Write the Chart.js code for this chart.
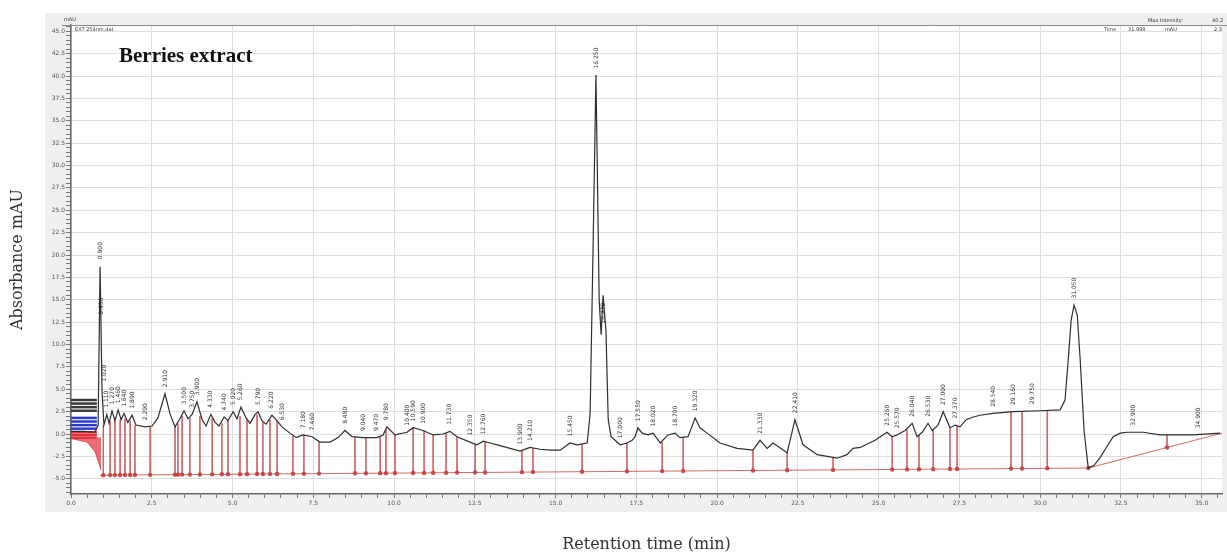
<!DOCTYPE html>
<html>
<head>
<meta charset="utf-8">
<script src="https://cdn.jsdelivr.net/npm/chart.js@4.4.1/dist/chart.umd.min.js"></script>
<style>
  html, body { margin: 0; padding: 0; background: #fff; }
  #wrap { position: relative; width: 1227px; height: 556px; }
</style>
</head>
<body>
<div id="wrap"><canvas id="myChart" width="1227" height="556"></canvas></div>
<script>
// chromatogram trace (min, mAU)
var traceTime = [0.00,0.40,0.74,0.84,0.90,0.96,1.02,1.11,1.18,1.27,
  1.36,1.46,1.55,1.64,1.76,1.89,2.01,2.29,2.51,2.69,
  2.91,3.07,3.22,3.37,3.50,3.62,3.75,3.90,4.06,4.18,
  4.33,4.46,4.58,4.74,4.86,5.02,5.14,5.26,5.42,5.54,
  5.70,5.79,5.91,6.04,6.22,6.35,6.53,6.78,6.97,7.18,
  7.46,7.71,8.02,8.27,8.48,8.70,9.04,9.47,9.66,9.78,
  10.03,10.40,10.59,10.90,11.21,11.52,11.73,11.95,12.35,12.57,
  12.76,12.97,13.28,13.90,14.21,14.52,14.83,15.14,15.45,15.67,
  15.98,16.07,16.16,16.25,16.35,16.41,16.47,16.56,16.63,16.72,
  17.00,17.21,17.37,17.46,17.55,17.68,17.86,18.02,18.24,18.48,
  18.70,18.85,19.10,19.32,19.47,19.69,20.09,20.62,21.11,21.33,
  21.55,21.73,22.17,22.41,22.66,23.10,23.72,24.02,24.21,24.43,
  24.89,25.26,25.42,25.57,25.82,26.04,26.19,26.35,26.53,26.66,
  26.84,27.00,27.21,27.37,27.52,27.71,27.93,28.14,28.54,29.16,
  30.00,30.62,30.77,30.87,30.96,31.05,31.15,31.24,31.36,31.49,
  31.67,31.86,32.05,32.26,32.48,32.69,33.19,33.71,34.74,35.57];
var traceAbs = [0.3,0.3,0.2,1.0,18.7,4.9,1.0,2.2,1.2,2.6,
  1.5,2.7,1.6,2.3,1.3,2.1,1.0,0.8,0.9,1.8,
  4.5,2.2,0.8,1.7,2.6,1.7,2.2,3.6,1.6,0.9,
  2.2,1.3,0.9,1.9,1.5,2.5,1.7,3.0,1.8,1.2,
  2.2,2.5,1.5,1.1,2.1,1.6,0.8,0.1,-0.4,-0.1,
  -0.3,-0.9,-0.9,-0.4,0.4,-0.3,-0.4,-0.4,-0.1,0.8,
  -0.1,0.2,0.7,0.4,-0.1,0.0,0.3,-0.3,-0.9,-1.2,
  -0.8,-1.0,-1.3,-1.9,-1.5,-1.7,-1.8,-1.8,-1.0,-1.2,
  -1.0,2.3,20.6,40.1,15.0,11.1,15.5,11.6,1.6,-0.3,
  -1.2,-1.0,-0.7,-0.3,0.7,0.1,-0.1,0.1,-1.0,-0.1,
  0.1,-0.4,-0.3,1.8,0.7,0.1,-1.0,-1.6,-1.8,-0.7,
  -1.6,-1.0,-2.1,1.6,-1.2,-2.3,-2.7,-2.3,-1.6,-1.5,
  -0.7,0.2,-0.3,-0.1,0.4,1.2,-0.3,0.2,1.2,0.4,
  1.0,2.5,0.7,1.0,0.8,1.6,1.9,2.1,2.3,2.5,
  2.6,2.7,3.8,8.3,12.7,14.4,13.3,8.3,0.4,-3.8,
  -3.5,-2.6,-1.5,-0.3,0.1,0.2,0.2,-0.1,-0.1,0.1];

// integration baseline
var baseTime = [0.90, 31.49, 35.63];
var baseAbs = [-4.6, -3.8, 0.1];

// peak drop lines: time, top on trace, foot on baseline
var dropTime = [1.00,1.21,1.36,1.52,1.67,1.83,1.98,2.45,3.22,3.31,
  3.44,3.68,3.99,4.37,4.67,4.86,5.23,5.45,5.76,5.94,
  6.16,6.38,6.87,7.21,7.68,8.79,9.13,9.57,9.75,10.03,
  10.59,10.93,11.21,11.61,11.95,12.51,12.82,13.96,14.30,15.82,
  17.21,18.30,18.95,21.11,22.17,23.59,25.42,25.88,26.25,26.69,
  27.21,27.43,29.10,29.44,30.22,33.93];
var dropTop = [1.0,1.4,1.5,1.6,1.7,1.5,1.0,0.9,0.8,1.2,
  2.0,1.8,2.0,1.8,1.2,1.5,2.0,1.6,2.2,1.3,
  1.6,1.5,-0.2,-0.1,-0.8,-0.3,-0.4,-0.3,0.5,-0.1,
  0.7,0.4,-0.1,0.1,-0.3,-1.1,-0.8,-1.8,-1.6,-1.1,
  -1.0,-0.9,-0.4,-1.8,-2.1,-2.6,-0.3,0.5,-0.1,0.5,
  0.7,0.9,2.5,2.5,2.6,-0.1];
var dropBase = [-4.60,-4.59,-4.59,-4.58,-4.58,-4.58,-4.57,-4.56,-4.54,-4.54,
  -4.53,-4.53,-4.52,-4.51,-4.50,-4.50,-4.49,-4.48,-4.47,-4.47,
  -4.46,-4.46,-4.44,-4.43,-4.42,-4.39,-4.38,-4.37,-4.37,-4.36,
  -4.35,-4.34,-4.33,-4.32,-4.31,-4.30,-4.29,-4.26,-4.25,-4.21,
  -4.17,-4.14,-4.13,-4.07,-4.04,-4.01,-3.96,-3.95,-3.94,-3.93,
  -3.91,-3.91,-3.86,-3.85,-3.83,-1.50];

// peak labels (retention time written at apex)
var labelTime = [0.90,0.93,1.02,1.11,1.27,1.46,1.64,1.89,2.29,2.91,
  3.50,3.75,3.90,4.33,4.74,5.02,5.26,5.79,6.22,6.53,
  7.18,7.46,8.48,9.04,9.47,9.78,10.40,10.59,10.90,11.73,
  12.35,12.76,13.90,14.21,15.45,16.25,16.47,17.00,17.55,18.02,
  18.70,19.32,21.33,22.41,25.26,25.57,26.04,26.53,27.00,27.37,
  28.54,29.16,29.75,31.05,32.90,34.90];
var labelAbs = [19.2,13.0,5.5,2.6,3.0,3.1,2.7,2.5,1.2,4.9,
  3.0,2.6,4.0,2.6,2.3,2.9,3.4,2.9,2.5,1.2,
  0.3,0.1,0.8,0.0,0.0,1.2,0.6,1.1,0.8,0.7,
  -0.5,-0.4,-1.5,-1.1,-0.6,40.5,12.0,-0.8,1.1,0.5,
  0.5,2.2,-0.3,2.0,0.6,0.3,1.6,1.6,2.9,1.4,
  2.7,2.9,3.0,14.8,0.6,0.3];

// overlaid runs at the very start
var startTime = [0.0, 0.80];
var blackLevels = [3.8, 3.4, 3.0, 2.6];
var blueLevels = [1.8, 1.4, 1.0, 0.6];
var redLevels = [0.2, -0.1, -0.4];
var redTailTime = [0.0, 0.50, 0.75, 0.93];
var redTailAbs = [-0.5, -0.9, -2.0, -4.0];

// axis ticks
var xTicks = [0,2.5,5,7.5,10,12.5,15,17.5,20,22.5,25,27.5,30,32.5,35];
var yTicks = [-5,-2.5,0,2.5,5,7.5,10,12.5,15,17.5,20,22.5,25,27.5,30,32.5,35,37.5,40,42.5,45];

function pts(xs, ys) {
  var out = [];
  for (var i in xs) out.push({x: xs[i], y: ys[i]});
  return out;
}

var datasets = [];
// trace
datasets.push({ data: pts(traceTime, traceAbs), borderColor: '#2e2e2e', borderWidth: 1.2, order: 1 });
// baseline
datasets.push({ data: pts(baseTime, baseAbs), borderColor: 'rgba(205,80,80,0.85)', borderWidth: 1, order: 3 });
// drop lines
var dropData = [];
for (var i in dropTime) {
  dropData.push({x: dropTime[i], y: dropTop[i]});
  dropData.push({x: dropTime[i], y: dropBase[i]});
  dropData.push({x: dropTime[i], y: null});
}
datasets.push({ data: dropData, borderColor: 'rgba(205,90,90,0.8)', borderWidth: 1, spanGaps: false, order: 4 });
// baseline dots
datasets.push({ data: pts(dropTime.concat([31.49]), dropBase.concat([-3.8])), showLine: false,
  pointRadius: 2.2, pointBackgroundColor: 'rgba(200,60,60,0.9)', pointBorderWidth: 0, order: 2 });
// start overlays
blackLevels.forEach(function(v) {
  datasets.push({ data: pts(startTime, [v, v]), borderColor: '#3a3a3a', borderWidth: 2.5, order: 5 });
});
blueLevels.forEach(function(v) {
  datasets.push({ data: pts(startTime, [v, v]), borderColor: '#2b3bd0', borderWidth: 2.5, order: 5 });
});
redLevels.forEach(function(v) {
  datasets.push({ data: pts(startTime, [v, v]), borderColor: '#e0303a', borderWidth: 2.5, order: 5 });
});
datasets.push({ data: pts(redTailTime, redTailAbs), borderColor: 'rgba(225,50,60,0.8)', borderWidth: 1,
  fill: {value: -0.4}, backgroundColor: 'rgba(230,60,70,0.75)', order: 5 });

var panelPlugin = {
  id: 'panel',
  beforeDraw: function(chart) {
    var c = chart.ctx, a = chart.chartArea;
    c.save();
    c.fillStyle = '#efefef';
    c.fillRect(45, 13, 1182, 499);
    c.fillStyle = '#ffffff';
    c.fillRect(a.left, a.top, a.right - a.left, a.bottom - a.top);
    c.restore();
  },
  afterDatasetsDraw: function(chart) {
    var c = chart.ctx, xs = chart.scales.x, ys = chart.scales.y, a = chart.chartArea;
    c.save();
    // peak labels
    c.fillStyle = '#333';
    c.font = '6px "DejaVu Sans"';
    c.textBaseline = 'middle';
    c.textAlign = 'left';
    for (var i in labelTime) {
      var px = xs.getPixelForValue(labelTime[i]);
      var py = ys.getPixelForValue(labelAbs[i]) - 3;
      c.save();
      c.translate(px, py);
      c.rotate(-Math.PI / 2);
      c.fillText(labelTime[i].toFixed(3), 0, 0);
      c.restore();
    }
    // top frame
    c.strokeStyle = '#888';
    c.lineWidth = 1;
    c.beginPath();
    c.moveTo(62, a.top + 0.5);
    c.lineTo(1227, a.top + 0.5);
    c.stroke();
    // header texts
    c.fillStyle = '#333';
    c.font = '5px "DejaVu Sans"';
    c.textAlign = 'left';
    c.fillText('mAU', 64, 20);
    c.fillText('EXT 254nm.dat', 75, 30);
    c.fillText('Max Intensity:', 1148, 21);
    c.fillText('40.2', 1212, 21);
    c.fillText('Time', 1104, 30);
    c.fillText('31.988', 1128, 30);
    c.fillText('mAU', 1165, 30);
    c.fillText('2.3', 1214, 30);
    // sample name
    c.fillStyle = '#111';
    c.font = 'bold 21px "Liberation Serif"';
    c.textBaseline = 'alphabetic';
    c.fillText('Berries extract', 119, 62);
    c.restore();
  }
};

function onStep(v, list) {
  for (var i in list) if (Math.abs(list[i] - v) < 1e-6) return true;
  return false;
}

var ctx = document.getElementById('myChart').getContext('2d');
var myChart = new Chart(ctx, {
  type: 'line',
  data: { datasets: datasets },
  options: {
    responsive: false,
    animation: false,
    devicePixelRatio: 1,
    layout: { padding: { top: 25, right: 5, left: 0, bottom: 0 } },
    elements: { point: { radius: 0 }, line: { tension: 0 } },
    plugins: { legend: { display: false }, tooltip: { enabled: false } },
    scales: {
      x: {
        type: 'linear', min: 0, max: 35.63,
        afterBuildTicks: function(s) {
          var t = [];
          for (var k = 0; k <= 71; k++) t.push({value: k * 0.5});
          s.ticks = t;
        },
        afterFit: function(s) { s.height = 62; },
        ticks: {
          autoSkip: false, maxRotation: 0, padding: 2, color: '#555',
          font: { size: 6, family: 'DejaVu Sans' },
          callback: function(v) { return onStep(v, xTicks) ? v.toFixed(1) : ''; }
        },
        grid: {
          color: function(c) { return c.tick && onStep(c.tick.value, xTicks) ? '#dedede' : 'rgba(0,0,0,0)'; },
          tickColor: '#777', tickLength: 4
        },
        border: { color: '#666', width: 1.5 },
        title: { display: true, text: 'Retention time (min)', color: '#333',
          font: { family: 'DejaVu Serif', size: 16 }, padding: { top: 0, bottom: 2 } }
      },
      y: {
        type: 'linear', min: -6.7, max: 45.7,
        afterBuildTicks: function(s) {
          var t = [];
          for (var k = -13; k <= 91; k++) t.push({value: k * 0.5});
          s.ticks = t;
        },
        afterFit: function(s) { s.width = 71; },
        ticks: {
          autoSkip: false, padding: 1, color: '#555',
          font: { size: 6, family: 'DejaVu Sans' },
          callback: function(v) { return onStep(v, yTicks) ? v.toFixed(1) : ''; }
        },
        grid: {
          color: function(c) { return c.tick && onStep(c.tick.value, yTicks) ? '#dedede' : 'rgba(0,0,0,0)'; },
          tickColor: '#777', tickLength: 5
        },
        border: { color: '#666', width: 1.5 },
        title: { display: true, text: 'Absorbance mAU', color: '#333',
          font: { family: 'DejaVu Serif', size: 16 }, padding: { top: 8, bottom: 0 } }
      }
    }
  },
  plugins: [panelPlugin]
});
</script>
</body>
</html>
